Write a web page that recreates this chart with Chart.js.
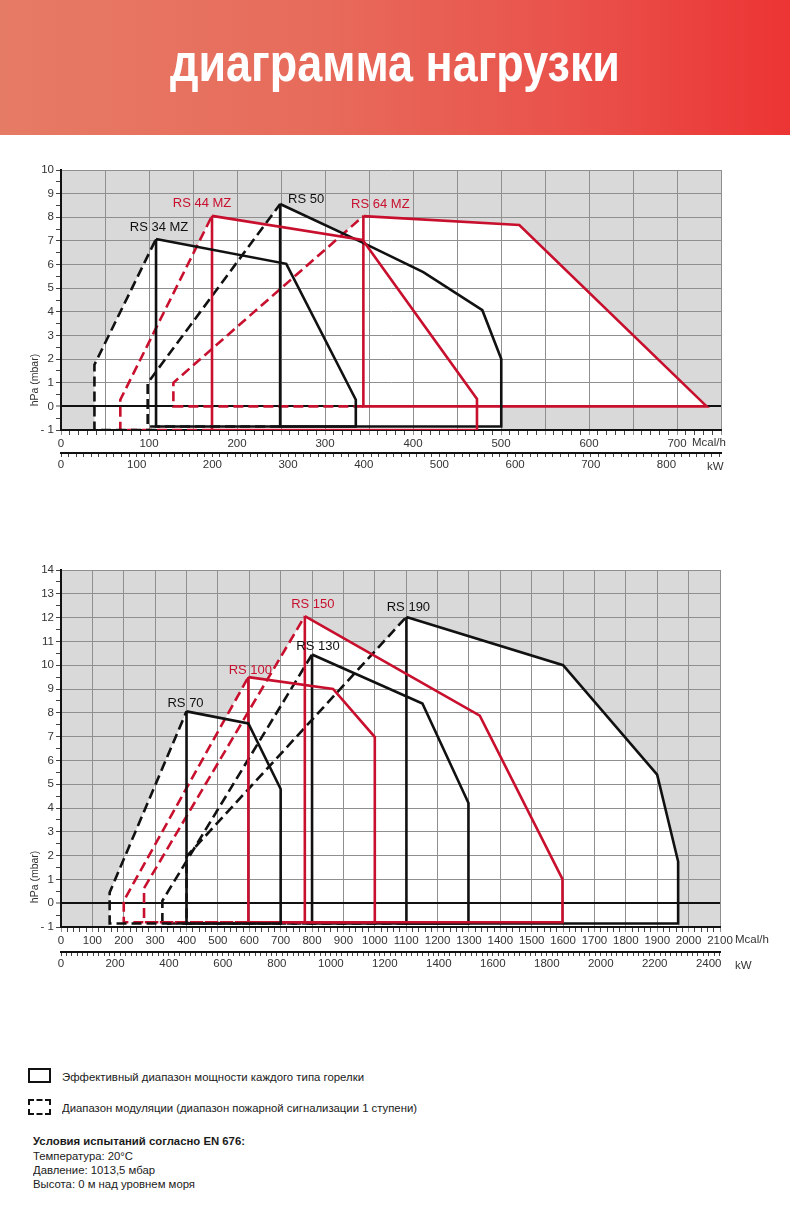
<!DOCTYPE html>
<html lang="ru"><head><meta charset="utf-8">
<script src="https://cdn.jsdelivr.net/npm/chart.js@4.4.1/dist/chart.umd.min.js"></script>
<style>
html,body{margin:0;padding:0;background:#fff}
body{width:790px;height:1231px;position:relative;overflow:hidden;font-family:'Liberation Sans',Arial,Helvetica,sans-serif;color:#1a1a1a}
#banner{position:absolute;left:0;top:0;width:790px;height:135px;background:linear-gradient(90deg,#e67b65 0%,#e76b5b 40%,#e9524b 72%,#ec3434 100%)}
#title{position:absolute;top:35px;left:170px;white-space:nowrap;color:#fff;font-weight:bold;font-size:54px;line-height:54px;font-family:'Liberation Sans Narrow','Liberation Sans',Arial,sans-serif;transform-origin:0 0}
canvas{position:absolute;left:0}
#c1{top:150px}
#c2{top:550px}
.t{position:absolute;white-space:nowrap;transform-origin:0 50%;font-size:11.5px;line-height:14px;color:#1a1a1a}
.box{position:absolute;box-sizing:border-box;border:2px solid #111}
</style>
</head><body>
<div id="banner"><div id="title">диаграмма нагрузки</div></div>
<canvas id="c1" width="790" height="340"></canvas>
<canvas id="c2" width="790" height="440"></canvas>

<div class="box" style="left:28px;top:1068px;width:23px;height:15px"></div>
<div class="t" id="l1" style="left:62px;top:1070px">Эффективный диапазон мощности каждого типа горелки</div>
<div class="box" style="left:28px;top:1099px;width:23px;height:16px;border-style:dashed"></div>
<div class="t" id="l2" style="left:62px;top:1101px">Диапазон модуляции (диапазон пожарной сигнализации 1 ступени)</div>
<div class="t" id="f0" style="left:33px;top:1134px;font-weight:bold">Условия испытаний согласно EN 676:</div>
<div class="t" id="f1" style="left:33px;top:1149px">Температура: 20°C</div>
<div class="t" id="f2" style="left:33px;top:1163px">Давление: 1013,5 мбар</div>
<div class="t" id="f3" style="left:33px;top:1177px">Высота: 0 м над уровнем моря</div>

<script>
// ---------------- DATA: top chart (x in Mcal/h, y in hPa) ----------------
const topNames = ['RS 34 MZ', 'RS 44 MZ', 'RS 50', 'RS 64 MZ'];
// modulation range (dashed)
const rs34mzModX = [108, 38, 38, 108];
const rs34mzModY = [-1, -1, 1.76, 7.08];
const rs44mzModX = [171.6, 67.4, 67.4, 171.6];
const rs44mzModY = [-1, -1, 0.28, 8.06];
const rs50ModX   = [249, 98.5, 98.5, 249];
const rs50ModY   = [-0.85, -0.85, 0.99, 8.56];
const rs64mzModX = [343.6, 127.7, 127.7, 343.6];
const rs64mzModY = [0, 0, 1, 8.05];
// working range (solid)
const rs34mzX = [108, 256, 335, 335, 108, 108];
const rs34mzY = [7.08, 6.03, 0.28, -0.85, -0.85, 7.08];
const rs44mzX = [171.6, 342.8, 472.7, 472.7, 171.6, 171.6];
const rs44mzY = [8.06, 7.04, 0.31, -1, -1, 8.06];
const rs50X   = [249, 342.8, 411.7, 478.8, 500.3, 500.3, 249, 249];
const rs50Y   = [8.56, 6.93, 5.68, 4.07, 2.0, -0.85, -0.85, 8.56];
const rs64mzX = [343.6, 520.8, 733.7, 343.6, 343.6];
const rs64mzY = [8.05, 7.67, 0, 0, 8.05];

// ---------------- DATA: bottom chart ----------------
const bottomNames = ['RS 70', 'RS 100', 'RS 150', 'RS 130', 'RS 190'];
const rs70ModX  = [400, 155, 155, 400];
const rs70ModY  = [-0.85, -0.85, 0.45, 8.06];
const rs100ModX = [597, 200, 200, 597];
const rs100ModY = [-0.8, -0.8, 0.1, 9.5];
const rs150ModX = [777, 264.6, 264.6, 777];
const rs150ModY = [-0.8, -0.8, 0.63, 12.06];
const rs130ModX = [800, 323, 323, 800];
const rs130ModY = [-0.85, -0.85, 0.1, 10.45];
const rs190ModX = [1100.7, 400, 400, 1100.7];
const rs190ModY = [-0.85, -0.85, 1.96, 12.03];
const rs70X  = [400, 597, 700, 700, 400, 400];
const rs70Y  = [8.06, 7.55, 4.8, -0.85, -0.85, 8.06];
const rs100X = [597, 867, 1000, 1000, 597, 597];
const rs100Y = [9.5, 9.0, 6.98, -0.8, -0.8, 9.5];
const rs150X = [777, 1334.5, 1598, 1598, 777, 777];
const rs150Y = [12.06, 7.88, 1.01, -0.8, -0.8, 12.06];
const rs130X = [800, 1151.7, 1298.4, 1298.4, 800, 800];
const rs130Y = [10.45, 8.39, 4.21, -0.85, -0.85, 10.45];
const rs190X = [1100.7, 1600, 1899.7, 1966.6, 1966.6, 1100.7, 1100.7];
const rs190Y = [12.03, 10.0, 5.4, 1.75, -0.85, -0.85, 12.03];

// axis ranges / units
const MCAL_PER_KW = 0.86;
const topXMax = 750, topYMax = 10;
const bottomXMax = 2100, bottomYMax = 14;

// ---------------- styles ----------------
const RED = '#c8102e', BLACK = '#111111', GRID = '#8f8f8f', BG = '#d9d9d9';
const FONT = "'Liberation Sans', Arial, Helvetica, sans-serif";

const topBurners = [
  {name: topNames[0], color: BLACK, modX: rs34mzModX, modY: rs34mzModY, X: rs34mzX, Y: rs34mzY, dx: 3, dy: -12},
  {name: topNames[1], color: RED,   modX: rs44mzModX, modY: rs44mzModY, X: rs44mzX, Y: rs44mzY, dx: -10, dy: -12},
  {name: topNames[2], color: BLACK, modX: rs50ModX,   modY: rs50ModY,   X: rs50X,   Y: rs50Y,   dx: 26, dy: -5},
  {name: topNames[3], color: RED,   modX: rs64mzModX, modY: rs64mzModY, X: rs64mzX, Y: rs64mzY, dx: 17, dy: -12}
];
const bottomBurners = [
  {name: bottomNames[0], color: BLACK, modX: rs70ModX,  modY: rs70ModY,  X: rs70X,  Y: rs70Y,  dx: -1, dy: -8},
  {name: bottomNames[1], color: RED,   modX: rs100ModX, modY: rs100ModY, X: rs100X, Y: rs100Y, dx: 2, dy: -7},
  {name: bottomNames[2], color: RED,   modX: rs150ModX, modY: rs150ModY, X: rs150X, Y: rs150Y, dx: 8, dy: -12},
  {name: bottomNames[3], color: BLACK, modX: rs130ModX, modY: rs130ModY, X: rs130X, Y: rs130Y, dx: 6, dy: -8},
  {name: bottomNames[4], color: BLACK, modX: rs190ModX, modY: rs190ModY, X: rs190X, Y: rs190Y, dx: 2, dy: -9}
];

const seq = (a, b, s) => { const r = []; for (let i = 0; a + i * s <= b + 1e-9; i++) r.push(+(a + i * s).toFixed(4)); return r; };
const pts = (xs, ys) => xs.map((v, i) => ({x: v, y: ys[i]}));

const envelopePlugin = {
  id: 'envelope',
  beforeDraw(chart) {
    const o = chart.options.plugins.envelope; if (!o) return;
    const {ctx, chartArea: a, scales: {x, y}} = chart;
    ctx.save();
    ctx.fillStyle = BG;
    ctx.fillRect(a.left, a.top, a.right - a.left, a.bottom - a.top);
    ctx.beginPath(); ctx.rect(a.left, a.top, a.right - a.left, a.bottom - a.top); ctx.clip();
    ctx.fillStyle = '#ffffff';
    o.burners.forEach(b => {
      const xs = b.modX.concat(b.X), ys = b.modY.concat(b.Y);
      ctx.beginPath();
      xs.forEach((v, i) => {
        const yy = ys[i] < -0.5 ? y.min : ys[i];
        const px = x.getPixelForValue(v), py = y.getPixelForValue(yy);
        if (i) ctx.lineTo(px, py); else ctx.moveTo(px, py);
      });
      ctx.closePath(); ctx.fill();
    });
    ctx.restore();
  },
  afterDatasetsDraw(chart) {
    const o = chart.options.plugins.envelope; if (!o) return;
    const {ctx, scales: {x, y}} = chart;
    ctx.save();
    ctx.font = '13px ' + FONT;
    ctx.textAlign = 'center'; ctx.textBaseline = 'middle';
    o.burners.forEach(b => {
      ctx.fillStyle = b.color === RED ? RED : '#111';
      ctx.fillText(b.name, x.getPixelForValue(b.X[0]) + b.dx, y.getPixelForValue(b.Y[0]) + b.dy);
    });
    ctx.restore();
  },
  afterDraw(chart) {
    const o = chart.options.plugins.envelope; if (!o) return;
    const {ctx, chartArea: a, scales: {y, x2}} = chart;
    ctx.save();
    ctx.fillStyle = '#333';
    ctx.font = '11.5px ' + FONT;
    ctx.textBaseline = 'middle'; ctx.textAlign = 'left';
    ctx.fillText('Mcal/h', a.right + o.mcalDx, a.bottom + 13);
    ctx.fillText('kW', a.right + o.kwDx, x2.top + 13.5);
    ctx.translate(35, y.getPixelForValue(0));
    ctx.rotate(-Math.PI / 2);
    ctx.font = '10.5px ' + FONT;
    ctx.fillText('hPa (mbar)', 0, 0);
    ctx.restore();
  }
};

function build(canvasId, burners, p) {
  const datasets = [];
  burners.forEach(b => {
    datasets.push({data: pts(b.X, b.Y), borderColor: b.color, borderWidth: 2.6, showLine: true, pointRadius: 0, fill: false, tension: 0, borderJoinStyle: 'miter'});
    datasets.push({data: pts(b.modX, b.modY), borderColor: b.color, borderWidth: 2.6, borderDash: [10, 5], showLine: true, pointRadius: 0, fill: false, tension: 0});
  });
  const kwMax = p.xMax / MCAL_PER_KW;
  const tickFont = {family: FONT, size: 11.5};
  return new Chart(document.getElementById(canvasId), {
    type: 'scatter',
    data: {datasets},
    plugins: [envelopePlugin],
    options: {
      responsive: false, animation: false, devicePixelRatio: 1,
      layout: {padding: {top: 20, right: p.padRight, left: 0, bottom: 0}},
      plugins: {legend: {display: false}, tooltip: {enabled: false},
        envelope: {burners, mcalDx: p.mcalDx, kwDx: p.kwDx}},
      scales: {
        x: {
          type: 'linear', position: 'bottom', weight: 0, min: 0, max: p.xMax,
          afterBuildTicks: s => { s.ticks = seq(0, p.xMax, p.xMinor).map(v => ({value: v})); },
          afterFit: s => { s.height = p.mcalH; },
          ticks: {autoSkip: false, maxRotation: 0, minRotation: 0, padding: 2, color: '#333', font: tickFont,
            callback: v => (Math.abs(v % p.xLabel) < 1e-6 && v <= p.xLabelMax) ? String(v) : ''},
          grid: {drawOnChartArea: true, lineWidth: 1, tickLength: 5, tickWidth: 1,
            color: c => (c.tick && Math.abs(c.tick.value % p.xGrid) < 1e-6) ? GRID : 'rgba(0,0,0,0)',
            tickColor: c => (c.tick && Math.abs(c.tick.value % p.xGrid) < 1e-6) ? GRID : '#444'},
          border: {display: true, color: '#111', width: 2}
        },
        x2: {
          type: 'linear', position: 'bottom', weight: 1, min: 0, max: kwMax,
          afterBuildTicks: s => { s.ticks = seq(0, kwMax, p.kwMinor).map(v => ({value: v})); },
          afterFit: s => { s.height = p.kwH; },
          ticks: {autoSkip: false, maxRotation: 0, minRotation: 0, padding: 1, color: '#333', font: tickFont,
            callback: v => (Math.abs(v % p.kwLabel) < 1e-6) ? String(v) : ''},
          grid: {drawOnChartArea: false, tickLength: 4, tickWidth: 1, tickColor: '#444'},
          border: {display: true, color: '#111', width: 2}
        },
        y: {
          type: 'linear', position: 'left', min: -1, max: p.yMax,
          afterBuildTicks: s => { s.ticks = seq(-1, p.yMax, 0.5).map(v => ({value: v})); },
          afterFit: s => { s.width = 61; },
          ticks: {autoSkip: false, padding: 2, color: '#333', font: tickFont,
            callback: v => Number.isInteger(v) ? (v < 0 ? '- ' + (-v) : String(v)) : ''},
          grid: {tickLength: 5, tickWidth: 1, tickColor: '#444',
            lineWidth: c => (c.tick && c.tick.value === 0) ? 2 : 1,
            color: c => { if (!c.tick) return GRID; const v = c.tick.value; return v === 0 ? '#111' : (Number.isInteger(v) ? GRID : 'rgba(0,0,0,0)'); }},
          border: {display: true, color: '#111', width: 2}
        }
      }
    }
  });
}

build('c1', topBurners, {xMax: topXMax, yMax: topYMax, xMinor: 10, xGrid: 50, xLabel: 100, xLabelMax: 700,
  kwMinor: 10, kwLabel: 100, mcalH: 23, kwH: 37, padRight: 69, mcalDx: -29, kwDx: -14});
build('c2', bottomBurners, {xMax: bottomXMax, yMax: bottomYMax, xMinor: 20, xGrid: 100, xLabel: 100, xLabelMax: 2100,
  kwMinor: 20, kwLabel: 200, mcalH: 25, kwH: 38, padRight: 70, mcalDx: 15, kwDx: 15});

function fit(id, w) {
  const el = document.getElementById(id);
  const r = el.getBoundingClientRect().width;
  if (r > 0) el.style.transform = 'scaleX(' + (w / r).toFixed(4) + ')';
}
fit('title', 450);
fit('l1', 302); fit('l2', 355);
fit('f0', 212); fit('f1', 100); fit('f2', 122); fit('f3', 162);
</script>
</body></html>
